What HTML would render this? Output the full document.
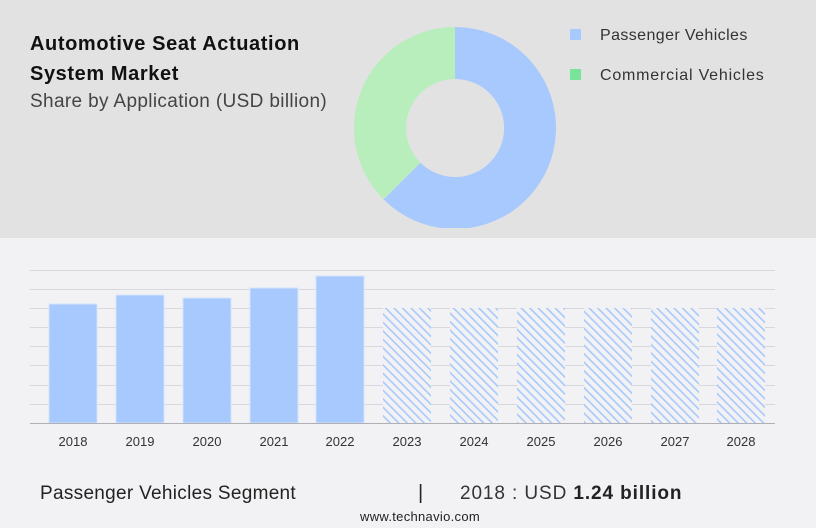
<!DOCTYPE html>
<html><head><style>
body{margin:0;width:816px;height:528px;overflow:hidden;background:#f2f2f4;font-family:"Liberation Sans",sans-serif;position:relative}
.top{position:absolute;left:0;top:0;width:816px;height:238px;background:#e2e2e2}
.t{position:absolute;color:#222;white-space:nowrap}
</style></head><body>
<div class="top"></div>
<div class="t" style="left:30px;top:29px;font-size:20px;font-weight:bold;line-height:30px;color:#111;letter-spacing:0.6px">Automotive Seat Actuation<br>System Market</div>
<div class="t" style="left:30px;top:91px;font-size:19px;color:#444;letter-spacing:0.35px">Share by Application (USD billion)</div>
<svg width="816" height="528" style="position:absolute;left:0;top:0">
<defs><pattern id="h" width="6" height="6" patternUnits="userSpaceOnUse" patternTransform="rotate(-45)"><rect width="6" height="6" fill="#f2f2f4"/><rect width="1.6" height="6" fill="#a8c8fc"/></pattern>
<clipPath id="c"><rect x="0" y="0" width="816" height="228"/></clipPath></defs>
<g clip-path="url(#c)">
<path d="M455,27 A101,101 0 1 1 383.6,199.4 L420.4,162.6 A49,49 0 1 0 455,79 Z" fill="#a8c9fd"/>
<path d="M383.6,199.4 A101,101 0 0 1 455,27 L455,79 A49,49 0 0 0 420.4,162.6 Z" fill="#b8eebb"/>
</g>
<rect x="570" y="29" width="11" height="11" fill="#a8c9fd"/>
<rect x="570" y="69" width="11" height="11" fill="#7ae39a"/>
<text x="600" y="40" font-size="16" fill="#333" letter-spacing="0.4">Passenger Vehicles</text>
<text x="600" y="80" font-size="16" fill="#333" letter-spacing="0.8">Commercial Vehicles</text>
<g stroke="#d8d8dc" stroke-width="1">
<line x1="30" x2="775" y1="270.5" y2="270.5"/><line x1="30" x2="775" y1="289.5" y2="289.5"/><line x1="30" x2="775" y1="308.5" y2="308.5"/><line x1="30" x2="775" y1="327.5" y2="327.5"/><line x1="30" x2="775" y1="346.5" y2="346.5"/><line x1="30" x2="775" y1="365.5" y2="365.5"/><line x1="30" x2="775" y1="385.5" y2="385.5"/><line x1="30" x2="775" y1="404.5" y2="404.5"/>
</g>
<g fill="#a8c9fd" stroke="#d6e4fb" stroke-width="1">
<rect x="49" y="304" width="48" height="119"/>
<rect x="116" y="295" width="48" height="128"/>
<rect x="183" y="298" width="48" height="125"/>
<rect x="250" y="288" width="48" height="135"/>
<rect x="316" y="276" width="48" height="147"/>
</g>
<g fill="url(#h)">
<rect x="383" y="308" width="48" height="115"/><rect x="450" y="308" width="48" height="115"/><rect x="517" y="308" width="48" height="115"/><rect x="584" y="308" width="48" height="115"/><rect x="651" y="308" width="48" height="115"/><rect x="717" y="308" width="48" height="115"/>
</g>
<line x1="30" x2="775" y1="423.5" y2="423.5" stroke="#b0b0b4"/>
<g font-size="13" fill="#333" text-anchor="middle">
<text x="73" y="446">2018</text><text x="140" y="446">2019</text><text x="207" y="446">2020</text><text x="274" y="446">2021</text><text x="340" y="446">2022</text><text x="407" y="446">2023</text><text x="474" y="446">2024</text><text x="541" y="446">2025</text><text x="608" y="446">2026</text><text x="675" y="446">2027</text><text x="741" y="446">2028</text>
</g>
<text x="40" y="499" font-size="19" fill="#222" letter-spacing="0.3">Passenger Vehicles Segment</text>
<text x="418" y="499" font-size="20" fill="#222">|</text>
<text x="460" y="499" font-size="19" fill="#333" letter-spacing="0.9">2018 : USD <tspan font-weight="bold" fill="#222">1.24 billion</tspan></text>
<text x="420" y="521" font-size="13" fill="#222" text-anchor="middle" letter-spacing="0.3">www.technavio.com</text>
</svg>
</body></html>
